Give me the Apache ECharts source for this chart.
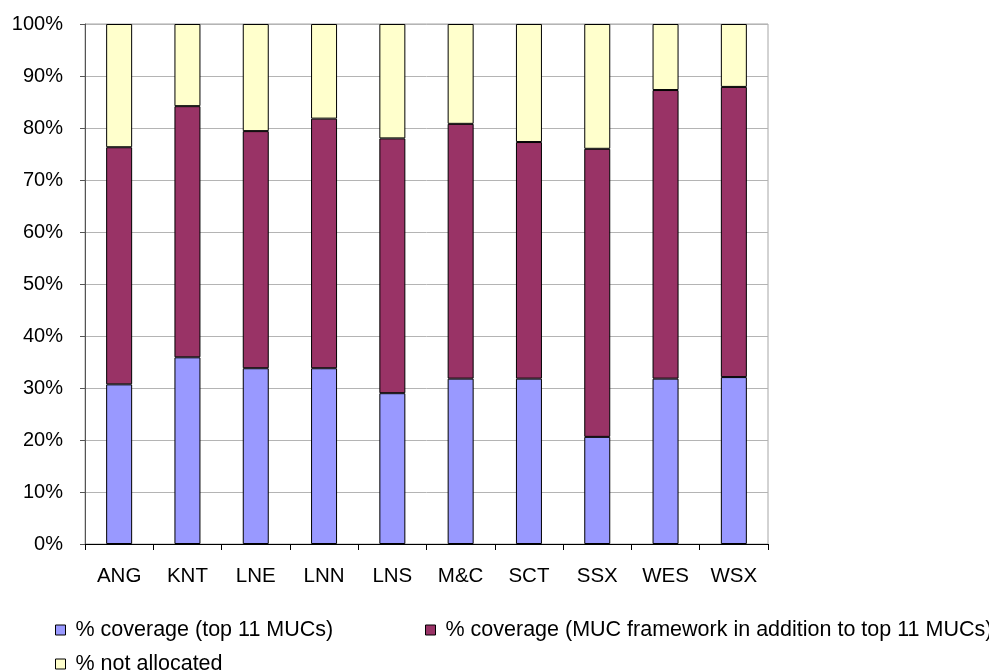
<!DOCTYPE html>
<html>
<head>
<meta charset="utf-8">
<script src="https://cdn.jsdelivr.net/npm/echarts@6/dist/echarts.min.js"></script>
<style>
  html, body { margin: 0; padding: 0; background: #fff; }
  #chart { width: 989px; height: 672px; }
</style>
</head>
<body>
<div id="chart"></div>
<script>
// Regions along the category axis
const regions = ['ANG', 'KNT', 'LNE', 'LNN', 'LNS', 'M&C', 'SCT', 'SSX', 'WES', 'WSX'];

// Share of each region (percent), stacked to 100
const coverageTop11 = [30.7, 35.9, 33.8, 33.8, 29.0, 31.8, 31.8, 20.6, 31.8, 32.1];
const coverageFramework = [45.6, 48.3, 45.6, 48.0, 49.0, 49.0, 45.5, 55.4, 55.5, 55.8];
const notAllocated = [23.7, 15.8, 20.6, 18.2, 22.0, 19.2, 22.7, 24.0, 12.7, 12.1];

const seriesNames = [
  '% coverage (top 11 MUCs)',
  '% coverage (MUC framework in addition to top 11 MUCs)',
  '% not allocated'
];
const seriesColors = ['#9999FF', '#993366', '#FFFFCC'];

const font = 'Arial, "Liberation Sans", sans-serif';

const chart = echarts.init(document.getElementById('chart'), null, { renderer: 'canvas' });

function legendAt(idx, left, top) {
  return {
    data: [seriesNames[idx]],
    left: left,
    top: top,
    orient: 'horizontal',
    icon: 'rect',
    itemWidth: 10,
    itemHeight: 10,
    padding: 0,
    selectedMode: false,
    itemStyle: { borderColor: '#000', borderWidth: 1 },
    textStyle: { fontFamily: font, fontSize: 21.5, color: '#000', padding: [0, 0, 0, 5] }
  };
}

const makeSeries = (idx, data) => ({
  name: seriesNames[idx],
  type: 'bar',
  stack: 'total',
  data: data,
  barWidth: 26,
  itemStyle: { color: seriesColors[idx], borderColor: '#000', borderWidth: 1 },
  emphasis: { disabled: true }
});

chart.setOption({
  animation: false,
  backgroundColor: '#fff',
  grid: {
    left: 85, right: 221, top: 24, bottom: 128,
    show: true, borderColor: '#a6a6a6', borderWidth: 1, backgroundColor: 'transparent'
  },
  legend: [
    legendAt(0, 55, 619),
    legendAt(1, 425, 619),
    legendAt(2, 55, 653)
  ],
  xAxis: {
    type: 'category',
    data: regions,
    axisLine: { show: true, lineStyle: { color: '#000', width: 1 } },
    axisTick: { show: true, length: 6, lineStyle: { color: '#000' } },
    axisLabel: { fontFamily: font, fontSize: 20.5, color: '#000', margin: 22 },
    splitLine: { show: false }
  },
  yAxis: {
    type: 'value',
    min: 0,
    max: 100,
    interval: 10,
    axisLine: { show: true, lineStyle: { color: '#555', width: 1 } },
    axisTick: { show: true, length: 5, lineStyle: { color: '#555' } },
    axisLabel: { fontFamily: font, fontSize: 20, color: '#000', margin: 22, formatter: '{value}%' },
    splitLine: { show: true, lineStyle: { color: '#b4b4b4', width: 1 } }
  },
  series: [
    makeSeries(0, coverageTop11),
    makeSeries(1, coverageFramework),
    makeSeries(2, notAllocated)
  ]
});
</script>
</body>
</html>
